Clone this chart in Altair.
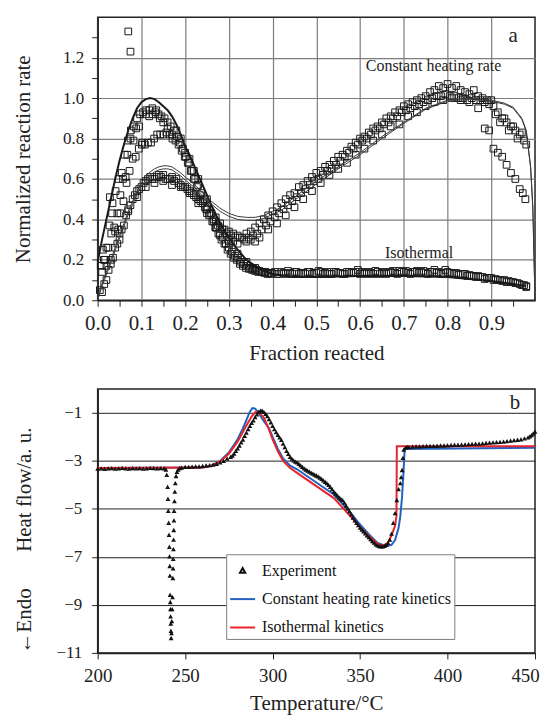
import altair as alt
import pandas as pd

FONT = "Liberation Serif"
INK = "#1a1a1a"

# ====================== panel a : data (fraction reacted, normalized rate) ======================
ISO_RUN_1 = [
    (0.007, 0.17), (0.014, 0.2), (0.02, 0.26), (0.027, 0.37), (0.034, 0.48), (0.041, 0.54), (0.048, 0.6),
    (0.055, 0.63), (0.062, 0.72), (0.069, 0.79), (0.076, 0.84), (0.083, 0.86), (0.09, 0.9), (0.097, 0.92),
    (0.104, 0.93), (0.111, 0.94), (0.118, 0.94), (0.125, 0.95), (0.132, 0.93), (0.139, 0.92), (0.146, 0.91),
    (0.153, 0.9), (0.16, 0.88), (0.167, 0.86), (0.174, 0.84), (0.181, 0.81), (0.188, 0.78), (0.195, 0.75),
    (0.202, 0.71), (0.209, 0.68), (0.216, 0.64), (0.223, 0.6), (0.23, 0.57), (0.237, 0.53), (0.244, 0.5),
    (0.251, 0.46), (0.258, 0.43), (0.265, 0.39), (0.272, 0.36), (0.279, 0.33), (0.286, 0.31), (0.293, 0.28),
    (0.3, 0.26), (0.307, 0.24), (0.314, 0.22), (0.321, 0.21), (0.328, 0.19), (0.335, 0.18), (0.342, 0.17),
    (0.349, 0.16), (0.356, 0.155), (0.363, 0.15), (0.37, 0.145), (0.377, 0.14), (0.384, 0.14), (0.391, 0.135),
    (0.398, 0.135),
    (0.41, 0.13), (0.42, 0.14), (0.43, 0.13), (0.44, 0.135), (0.45, 0.14), (0.46, 0.13), (0.47, 0.135),
    (0.48, 0.14), (0.49, 0.13), (0.5, 0.135), (0.51, 0.14), (0.52, 0.135), (0.53, 0.13), (0.54, 0.14),
    (0.55, 0.135), (0.56, 0.13), (0.57, 0.14), (0.58, 0.135), (0.59, 0.14), (0.6, 0.13), (0.61, 0.135),
    (0.62, 0.14), (0.63, 0.13), (0.64, 0.14), (0.65, 0.135), (0.66, 0.13), (0.67, 0.14), (0.68, 0.135),
    (0.69, 0.145), (0.7, 0.14), (0.71, 0.135), (0.72, 0.14), (0.73, 0.145), (0.74, 0.14), (0.75, 0.135),
    (0.76, 0.14), (0.77, 0.15), (0.78, 0.14), (0.79, 0.135), (0.8, 0.14), (0.81, 0.135), (0.82, 0.135),
    (0.83, 0.13), (0.84, 0.13), (0.85, 0.125), (0.86, 0.12), (0.87, 0.12), (0.88, 0.115), (0.89, 0.11),
    (0.9, 0.11), (0.91, 0.105), (0.92, 0.1), (0.93, 0.1), (0.94, 0.095), (0.95, 0.09), (0.96, 0.085),
    (0.97, 0.075), (0.98, 0.07),
]
ISO_RUN_2 = [
    (0.01, 0.14), (0.017, 0.2), (0.024, 0.26), (0.031, 0.33), (0.038, 0.36), (0.045, 0.43), (0.052, 0.43),
    (0.059, 0.49), (0.066, 0.58), (0.073, 0.64), (0.08, 0.7), (0.087, 0.71), (0.094, 0.75), (0.101, 0.77),
    (0.108, 0.77), (0.115, 0.78), (0.122, 0.78), (0.129, 0.8), (0.136, 0.82), (0.143, 0.82), (0.15, 0.82),
    (0.157, 0.83), (0.164, 0.82), (0.171, 0.8), (0.178, 0.79), (0.185, 0.77), (0.192, 0.74), (0.199, 0.71),
    (0.206, 0.68), (0.213, 0.64), (0.22, 0.6), (0.227, 0.56), (0.234, 0.52), (0.241, 0.49), (0.248, 0.45),
    (0.255, 0.42), (0.262, 0.39), (0.269, 0.36), (0.276, 0.33), (0.283, 0.3), (0.29, 0.28), (0.297, 0.25),
    (0.304, 0.23), (0.311, 0.21), (0.318, 0.2), (0.325, 0.18), (0.332, 0.17), (0.339, 0.16), (0.346, 0.155),
    (0.353, 0.15), (0.36, 0.145), (0.367, 0.14), (0.374, 0.14), (0.381, 0.135), (0.388, 0.13), (0.395, 0.13),
    (0.405, 0.14), (0.415, 0.13), (0.425, 0.135), (0.435, 0.145), (0.445, 0.13), (0.455, 0.14), (0.465, 0.135),
    (0.475, 0.13), (0.485, 0.14), (0.495, 0.135), (0.505, 0.145), (0.515, 0.13), (0.525, 0.14), (0.535, 0.13),
    (0.545, 0.14), (0.555, 0.135), (0.565, 0.13), (0.575, 0.14), (0.585, 0.135), (0.595, 0.15), (0.605, 0.14),
    (0.615, 0.13), (0.625, 0.135), (0.635, 0.145), (0.645, 0.13), (0.655, 0.14), (0.665, 0.135), (0.675, 0.145),
    (0.685, 0.13), (0.695, 0.14), (0.705, 0.145), (0.715, 0.13), (0.725, 0.14), (0.735, 0.135), (0.745, 0.145),
    (0.755, 0.13), (0.765, 0.14), (0.775, 0.135), (0.785, 0.13), (0.795, 0.15), (0.805, 0.135), (0.815, 0.13),
    (0.825, 0.125), (0.835, 0.13), (0.845, 0.12), (0.855, 0.12), (0.865, 0.115), (0.875, 0.115), (0.885, 0.105),
    (0.895, 0.11), (0.905, 0.1), (0.915, 0.1), (0.925, 0.095), (0.935, 0.09), (0.945, 0.09), (0.955, 0.085),
    (0.965, 0.08), (0.975, 0.075), (0.98, 0.065),
]
ISO_SCATTER = [
    (0.07, 1.33), (0.075, 1.23), (0.012, 0.25), (0.02, 0.17), (0.028, 0.51), (0.033, 0.43), (0.04, 0.34),
    (0.047, 0.35), (0.052, 0.52), (0.058, 0.6), (0.064, 0.61), (0.068, 0.72), (0.075, 0.8), (0.082, 0.79),
    (0.088, 0.85), (0.095, 0.86), (0.102, 0.78), (0.11, 0.92), (0.118, 0.91), (0.126, 0.92), (0.134, 0.94),
    (0.142, 0.9), (0.15, 0.88), (0.16, 0.85), (0.17, 0.82), (0.18, 0.84), (0.19, 0.8), (0.2, 0.73),
    (0.21, 0.7), (0.22, 0.64), (0.23, 0.6), (0.25, 0.5), (0.27, 0.41), (0.28, 0.38), (0.3, 0.28),
    (0.32, 0.23), (0.34, 0.19), (0.36, 0.16),
]
CHR_RUN_1 = [
    (0.005, 0.05), (0.015, 0.08), (0.025, 0.15), (0.035, 0.21), (0.045, 0.28), (0.055, 0.35), (0.065, 0.42),
    (0.075, 0.47), (0.085, 0.52), (0.095, 0.55), (0.105, 0.58), (0.115, 0.6), (0.125, 0.6), (0.135, 0.61),
    (0.145, 0.61), (0.155, 0.6), (0.165, 0.6), (0.175, 0.59), (0.185, 0.58), (0.195, 0.56), (0.205, 0.55),
    (0.215, 0.53), (0.225, 0.51), (0.235, 0.49), (0.245, 0.46), (0.255, 0.43), (0.265, 0.4), (0.275, 0.37),
    (0.285, 0.35), (0.295, 0.33), (0.305, 0.32), (0.315, 0.31), (0.325, 0.31), (0.335, 0.3), (0.345, 0.31),
    (0.355, 0.32), (0.365, 0.33), (0.375, 0.35), (0.385, 0.37), (0.395, 0.39), (0.405, 0.41), (0.415, 0.43),
    (0.425, 0.45), (0.435, 0.47), (0.445, 0.49), (0.455, 0.51), (0.465, 0.53), (0.475, 0.55), (0.485, 0.57),
    (0.495, 0.59), (0.505, 0.6), (0.515, 0.62), (0.525, 0.64), (0.535, 0.65), (0.545, 0.67), (0.555, 0.69),
    (0.565, 0.71), (0.575, 0.73), (0.585, 0.75), (0.595, 0.77), (0.605, 0.79), (0.615, 0.8), (0.625, 0.82),
    (0.635, 0.84), (0.645, 0.85), (0.655, 0.87), (0.665, 0.88), (0.675, 0.9), (0.685, 0.91), (0.695, 0.93),
    (0.705, 0.94), (0.715, 0.95), (0.725, 0.96), (0.735, 0.97), (0.745, 0.98), (0.755, 0.99), (0.765, 1.0),
    (0.775, 1.01), (0.785, 1.01), (0.795, 1.02), (0.805, 1.01), (0.815, 1.01), (0.825, 1.0), (0.835, 1.0),
    (0.845, 0.99), (0.855, 1.0), (0.865, 0.99), (0.875, 0.99), (0.885, 0.98), (0.895, 0.97), (0.905, 0.96),
    (0.915, 0.93), (0.925, 0.9), (0.935, 0.88), (0.945, 0.86), (0.955, 0.84), (0.965, 0.82), (0.975, 0.79),
]
CHR_RUN_2 = [
    (0.01, 0.04), (0.02, 0.1), (0.03, 0.2), (0.04, 0.26), (0.05, 0.3), (0.06, 0.37), (0.07, 0.45), (0.08, 0.5),
    (0.09, 0.54), (0.1, 0.56), (0.11, 0.59), (0.12, 0.61), (0.13, 0.6), (0.14, 0.62), (0.15, 0.62), (0.16, 0.6),
    (0.17, 0.61), (0.18, 0.6), (0.19, 0.57), (0.2, 0.56), (0.21, 0.54), (0.22, 0.52), (0.23, 0.5), (0.24, 0.48),
    (0.25, 0.45), (0.26, 0.43), (0.27, 0.39), (0.28, 0.36), (0.29, 0.35), (0.3, 0.34), (0.31, 0.33), (0.32, 0.32),
    (0.33, 0.31), (0.34, 0.33), (0.35, 0.34), (0.36, 0.36), (0.37, 0.38), (0.38, 0.4), (0.39, 0.42), (0.4, 0.44),
    (0.41, 0.46), (0.42, 0.48), (0.43, 0.5), (0.44, 0.52), (0.45, 0.53), (0.46, 0.56), (0.47, 0.57), (0.48, 0.59),
    (0.49, 0.61), (0.5, 0.63), (0.51, 0.64), (0.52, 0.66), (0.53, 0.67), (0.54, 0.69), (0.55, 0.71), (0.56, 0.72),
    (0.57, 0.74), (0.58, 0.76), (0.59, 0.78), (0.6, 0.8), (0.61, 0.81), (0.62, 0.83), (0.63, 0.85), (0.64, 0.86),
    (0.65, 0.88), (0.66, 0.9), (0.67, 0.91), (0.68, 0.93), (0.69, 0.94), (0.7, 0.96), (0.71, 0.97), (0.72, 0.98),
    (0.73, 0.99), (0.74, 1.0), (0.75, 1.01), (0.76, 1.03), (0.77, 1.04), (0.78, 1.06), (0.79, 1.05), (0.8, 1.07),
    (0.81, 1.05), (0.82, 1.06), (0.83, 1.04), (0.84, 1.03), (0.85, 1.02), (0.86, 1.04), (0.87, 1.01), (0.88, 1.0),
    (0.89, 0.99), (0.9, 0.99), (0.91, 0.92), (0.92, 0.88), (0.93, 0.9), (0.94, 0.84), (0.95, 0.86), (0.96, 0.8),
    (0.97, 0.83), (0.98, 0.77),
]
CHR_RUN_3 = [
    (0.03, 0.18), (0.05, 0.33), (0.07, 0.44), (0.09, 0.51), (0.11, 0.56), (0.13, 0.58), (0.15, 0.59),
    (0.17, 0.57), (0.19, 0.56), (0.21, 0.53), (0.23, 0.48), (0.25, 0.43), (0.27, 0.36), (0.28, 0.32),
    (0.3, 0.3), (0.31, 0.29), (0.32, 0.28), (0.34, 0.29), (0.35, 0.3), (0.36, 0.29), (0.37, 0.31),
    (0.39, 0.35), (0.41, 0.38), (0.43, 0.42), (0.45, 0.46), (0.47, 0.5), (0.49, 0.54), (0.51, 0.58),
    (0.53, 0.62), (0.55, 0.65), (0.57, 0.68), (0.59, 0.72), (0.61, 0.75), (0.63, 0.79), (0.65, 0.82),
    (0.67, 0.86), (0.69, 0.87), (0.71, 0.91), (0.73, 0.93), (0.75, 0.96), (0.77, 0.98), (0.79, 0.99),
    (0.81, 1.0), (0.83, 0.99), (0.85, 0.98), (0.87, 0.95), (0.885, 0.85), (0.895, 0.84), (0.905, 0.75),
    (0.915, 0.73), (0.925, 0.71), (0.935, 0.67), (0.945, 0.63), (0.955, 0.6), (0.965, 0.55), (0.972, 0.53),
    (0.978, 0.5),
]

ISO_MODEL_X = [0, 0.01, 0.02, 0.03, 0.04, 0.05, 0.06, 0.07, 0.08, 0.09, 0.1, 0.11, 0.12, 0.13, 0.14, 0.15,
               0.16, 0.17, 0.18, 0.19, 0.2, 0.21, 0.22, 0.24, 0.26, 0.28, 0.3, 0.32, 0.34, 0.36, 0.38, 0.4,
               0.45, 0.5, 0.6, 0.7, 0.8, 0.85, 0.9, 0.95, 0.98]
ISO_MODEL_Y = [0.19, 0.3, 0.4, 0.5, 0.6, 0.69, 0.77, 0.84, 0.9, 0.95, 0.98, 0.995, 1.0, 0.995, 0.98, 0.96,
               0.94, 0.91, 0.87, 0.82, 0.76, 0.72, 0.67, 0.57, 0.47, 0.38, 0.31, 0.25, 0.2, 0.17, 0.145, 0.13,
               0.115, 0.115, 0.12, 0.12, 0.115, 0.105, 0.095, 0.08, 0.07]

CHR_MODEL_X = [0, 0.01, 0.02, 0.03, 0.04, 0.05, 0.06, 0.07, 0.08, 0.09,
               0.1, 0.11, 0.12, 0.13, 0.14, 0.15, 0.16, 0.17, 0.18, 0.19, 0.2,
               0.22, 0.24, 0.26, 0.28, 0.3, 0.32, 0.34, 0.36, 0.38, 0.4,
               0.42, 0.45, 0.5, 0.55, 0.6, 0.65, 0.7, 0.75, 0.8, 0.85, 0.9,
               0.93, 0.95, 0.97, 0.98, 0.99, 0.995, 1.0]
CHR_MODEL_Y_UPPER = [0.02, 0.08, 0.14, 0.2, 0.26, 0.32, 0.38, 0.44, 0.49, 0.54,
                     0.58, 0.61, 0.635, 0.65, 0.66, 0.665, 0.665, 0.66, 0.645, 0.63, 0.61,
                     0.575, 0.53, 0.49, 0.455, 0.43, 0.415, 0.41, 0.41, 0.42, 0.44,
                     0.46, 0.51, 0.59, 0.66, 0.73, 0.81, 0.88, 0.95, 0.99, 1.0, 0.99,
                     0.975, 0.955, 0.9, 0.84, 0.66, 0.46, 0.0]
CHR_MODEL_Y_LOWER = [0.0, 0.07, 0.125, 0.185, 0.245, 0.305, 0.365, 0.425, 0.475, 0.525,
                     0.565, 0.595, 0.62, 0.635, 0.645, 0.65, 0.65, 0.645, 0.63, 0.615, 0.595,
                     0.56, 0.515, 0.475, 0.44, 0.415, 0.4, 0.395, 0.395, 0.405, 0.425,
                     0.445, 0.495, 0.575, 0.65, 0.72, 0.8, 0.875, 0.945, 0.985, 0.995, 0.985,
                     0.97, 0.95, 0.895, 0.835, 0.655, 0.455, 0.0]

A_TICKS_X = [0.0, 0.05, 0.1, 0.15, 0.2, 0.25, 0.3, 0.35, 0.4, 0.45, 0.5, 0.55, 0.6, 0.65, 0.7, 0.75,
             0.8, 0.85, 0.9, 0.95]
A_TICKS_Y = [0.0, 0.1, 0.2, 0.3, 0.4, 0.5, 0.6, 0.7, 0.8, 0.9, 1.0, 1.1, 1.2, 1.3]

A_NOTES = ["a", "Constant heating rate", "Isothermal"]
A_NOTES_X = [0.95, 0.768, 0.735]
A_NOTES_Y = [1.305, 1.16, 0.235]
A_NOTES_SIZE = [21, 16, 16]

# ====================== panel b : DSC heat flow ======================
EXPERIMENT = [
    (200, -3.34), (202, -3.33), (204, -3.35), (206, -3.33), (208, -3.32), (210, -3.34), (212, -3.33),
    (214, -3.31), (216, -3.33), (218, -3.34), (220, -3.32), (222, -3.33), (224, -3.32), (226, -3.34),
    (228, -3.33), (230, -3.31), (232, -3.32), (234, -3.33), (236, -3.32), (238, -3.33),
    (239, -3.38), (239.5, -3.6), (240, -4.1), (240.2, -4.6), (240.4, -5.1), (240.6, -5.6), (240.8, -6.1),
    (241, -6.6), (241.1, -7.0), (241.2, -7.4), (241.3, -7.8), (241.4, -8.6), (241.5, -8.9), (241.6, -9.2),
    (241.7, -9.5), (241.8, -9.8), (241.9, -10.1), (242, -10.4), (242.2, -10.2), (242.4, -9.7), (242.6, -9.2),
    (242.8, -8.7), (243, -7.9), (243.1, -7.5), (243.2, -7.1), (243.3, -6.7), (243.4, -6.3), (243.5, -5.9),
    (243.6, -5.5), (243.7, -5.1), (243.9, -4.7), (244.1, -4.3), (244.4, -3.95), (244.8, -3.65),
    (245.3, -3.48), (246, -3.38), (247, -3.32),
    (248, -3.3), (250, -3.27), (252, -3.27), (254, -3.26), (256, -3.25), (258, -3.25), (260, -3.23),
    (262, -3.21), (264, -3.2), (266, -3.18), (268, -3.14), (270, -3.08), (272, -3.02), (274, -2.93),
    (276, -2.85), (277, -2.8), (278, -2.72), (279, -2.6), (280, -2.5), (281, -2.38), (282, -2.25),
    (283, -2.13), (284, -1.98), (285, -1.84), (286, -1.7), (287, -1.56), (288, -1.44), (289, -1.33),
    (290, -1.2), (291, -1.08), (292, -0.98), (293, -0.93), (294, -0.93), (295, -0.98), (296, -1.06),
    (297, -1.16), (298, -1.28), (299, -1.42), (300, -1.56), (301, -1.7), (302, -1.82), (303, -1.94),
    (304, -2.04), (305, -2.15), (306, -2.3), (307, -2.45), (308, -2.6), (309, -2.73), (310, -2.85),
    (311, -2.93), (312, -3.0), (313, -3.05), (314, -3.08), (315, -3.15), (316, -3.21), (317, -3.27),
    (318, -3.33), (319, -3.38), (320, -3.43), (321, -3.47), (322, -3.51), (323, -3.55), (324, -3.59),
    (325, -3.63), (326, -3.67), (327, -3.72), (328, -3.77), (329, -3.83), (330, -3.89), (331, -3.95),
    (332, -4.02), (333, -4.1), (334, -4.2), (335, -4.3), (336, -4.38), (337, -4.46), (338, -4.54),
    (339, -4.6), (340, -4.66), (341, -4.76), (342, -4.88), (343, -5.0), (344, -5.12), (345, -5.25),
    (346, -5.38), (347, -5.5), (348, -5.6), (349, -5.7), (350, -5.8), (351, -5.88), (352, -5.96),
    (353, -6.04), (354, -6.12), (355, -6.2), (356, -6.28), (357, -6.36), (358, -6.43), (359, -6.5),
    (360, -6.54), (361, -6.57), (362, -6.58), (363, -6.58), (364, -6.56), (365, -6.52), (366, -6.44),
    (367, -6.3), (368, -6.05), (369, -5.6), (370, -5.2), (371, -4.65), (372, -4.2), (373, -3.95),
    (373.5, -3.7), (374, -3.4), (374.5, -2.9), (375, -2.55), (376, -2.47), (377, -2.44), (378, -2.45),
    (380, -2.43), (382, -2.42), (384, -2.42), (386, -2.41), (388, -2.4), (390, -2.4), (392, -2.4),
    (394, -2.39), (396, -2.38), (398, -2.38), (400, -2.37), (402, -2.36), (404, -2.35), (406, -2.35),
    (408, -2.34), (410, -2.33), (412, -2.32), (414, -2.31), (416, -2.3), (418, -2.3), (420, -2.29),
    (422, -2.27), (424, -2.26), (426, -2.25), (428, -2.24), (430, -2.23), (432, -2.22), (434, -2.2),
    (436, -2.18), (438, -2.16), (440, -2.14), (442, -2.12), (444, -2.08), (446, -2.04), (447, -2.0),
    (448, -1.95), (449, -1.88), (450, -1.8),
]
CHR_KINETICS = [
    (200, -3.3), (260, -3.28), (265, -3.2), (270, -3.0), (275, -2.65), (280, -2.1), (283, -1.65), (285, -1.3),
    (287, -0.95), (288.5, -0.8), (290, -0.82), (292, -1.0), (295, -1.35), (298, -1.65), (300, -2.0),
    (303, -2.5), (306, -2.9), (310, -3.2), (314, -3.35), (320, -3.65), (325, -3.9), (330, -4.15),
    (335, -4.4), (340, -4.8), (345, -5.2), (350, -5.65), (355, -6.05), (360, -6.42), (365, -6.55),
    (368, -6.5), (370, -6.3), (372, -5.8), (373, -5.3), (374, -4.5), (374.8, -3.5), (375.5, -2.5),
    (450, -2.45),
]
ISO_KINETICS = [
    (200, -3.3), (260, -3.28), (265, -3.2), (270, -3.02), (275, -2.7), (280, -2.2), (283, -1.8), (286, -1.4),
    (288, -1.15), (290, -0.97), (292, -0.96), (295, -1.2), (298, -1.7), (300, -2.1), (303, -2.6),
    (306, -3.0), (310, -3.3), (314, -3.5), (320, -3.8), (325, -4.05), (330, -4.3), (335, -4.55),
    (340, -4.95), (345, -5.35), (350, -5.75), (355, -6.13), (360, -6.45), (362, -6.52), (364, -6.5),
    (366, -6.4), (368, -6.1), (370, -5.7), (370.8, -5.3), (371, -2.39), (450, -2.39),
]
B_TICKS_X = [200, 250, 300, 350, 400, 450]
B_TICKS_Y = [-11, -9, -7, -5, -3, -1]
SERIES = ["Experiment", "Constant heating rate kinetics", "Isothermal kinetics"]
SERIES_COLORS = ["#111111", "#1f62c0", "#e8232b"]
SERIES_SHAPES = ["M0,-0.22L0.21,0.16L-0.21,0.16Z", "stroke", "stroke"]
B_NOTES = ["b"]
B_NOTES_T = [438.6]
B_NOTES_V = [-0.59]
B_NOTES_SIZE = [21]

# ====================== build panel a ======================
sq_rows = []
for name, run in [("iso1", ISO_RUN_1), ("iso2", ISO_RUN_2), ("iso3", ISO_SCATTER),
                  ("chr1", CHR_RUN_1), ("chr2", CHR_RUN_2), ("chr3", CHR_RUN_3)]:
    for x, y in run:
        sq_rows.append({"x": x, "y": y, "run": name})
sq_df = pd.DataFrame(sq_rows)
iso_model_df = pd.DataFrame({"x": ISO_MODEL_X, "y": ISO_MODEL_Y})
chr_up_df = pd.DataFrame({"x": CHR_MODEL_X, "y": CHR_MODEL_Y_UPPER})
chr_lo_df = pd.DataFrame({"x": CHR_MODEL_X, "y": CHR_MODEL_Y_LOWER})
a_notes_df = pd.DataFrame({"x": A_NOTES_X, "y": A_NOTES_Y, "label": A_NOTES, "size": A_NOTES_SIZE})

GRID_A = "#7d7d7d"
axis_a_x = alt.Axis(
    values=A_TICKS_X,
    labelExpr="round(datum.value*100) % 10 == 0 ? format(datum.value, '.1f') : ''",
    grid=True,
    gridColor={"condition": {"test": "round(datum.value*100) % 10 == 0", "value": GRID_A},
               "value": "rgba(0,0,0,0)"},
    gridWidth=1.2,
    labelFontSize=21, labelPadding=6, labelOverlap=False, labelFlush=False,
    titleFontSize=21, titlePadding=9,
)
axis_a_y = alt.Axis(
    values=A_TICKS_Y,
    labelExpr="round(datum.value*10) % 2 == 0 ? format(datum.value, '.1f') : ''",
    grid=True,
    gridColor={"condition": {"test": "round(datum.value*10) % 2 == 0", "value": GRID_A},
               "value": "rgba(0,0,0,0)"},
    gridWidth=1.2,
    labelFontSize=17, labelPadding=8, labelOverlap=False, labelFlush=False,
    titleFontSize=21, titlePadding=29,
)
XA = alt.X("x:Q", scale=alt.Scale(domain=[0, 1], nice=False, zero=False), axis=axis_a_x,
           title="Fraction reacted")
YA = alt.Y("y:Q", scale=alt.Scale(domain=[0, 1.4], nice=False, zero=False), axis=axis_a_y,
           title="Normalized reaction rate")

squares = alt.Chart(sq_df).mark_point(shape="square", filled=False, size=45, color=INK,
                                      strokeWidth=1, opacity=1).encode(x=XA, y=YA)
iso_line = alt.Chart(iso_model_df).mark_line(color=INK, strokeWidth=2).encode(x=XA, y=YA)
chr_up = alt.Chart(chr_up_df).mark_line(color="#3a3a3a", strokeWidth=1).encode(x=XA, y=YA)
chr_lo = alt.Chart(chr_lo_df).mark_line(color="#3a3a3a", strokeWidth=1).encode(x=XA, y=YA)
a_text = alt.Chart(a_notes_df).mark_text(font=FONT, color="#222222", align="center",
                                         baseline="middle").encode(
    x=XA, y=YA, text="label:N", size=alt.Size("size:Q", scale=None, legend=None))

panel_a = alt.layer(squares, iso_line, chr_up, chr_lo, a_text).properties(width=439, height=284)

# ====================== build panel b ======================
exp_df = pd.DataFrame({"T": [p[0] for p in EXPERIMENT], "v": [p[1] for p in EXPERIMENT],
                       "series": SERIES[0]})
chr_df = pd.DataFrame({"T": [p[0] for p in CHR_KINETICS], "v": [p[1] for p in CHR_KINETICS],
                       "series": SERIES[1]})
iso_df = pd.DataFrame({"T": [p[0] for p in ISO_KINETICS], "v": [p[1] for p in ISO_KINETICS],
                       "series": SERIES[2]})
b_notes_df = pd.DataFrame({"T": B_NOTES_T, "v": B_NOTES_V, "label": B_NOTES, "size": B_NOTES_SIZE})

axis_b_x = alt.Axis(values=B_TICKS_X, format="d", grid=False, labelFontSize=19, labelPadding=8,
                    labelFlush=False, labelOverlap=False, titleFontSize=21, titlePadding=7,
                    labelOffset={"condition": {"test": "datum.value == 450", "value": -10}, "value": 0})
axis_b_y = alt.Axis(values=B_TICKS_Y, format="d", grid=True, gridColor="#222222", gridWidth=1,
                    labelFontSize=17, labelPadding=10, labelFlush=False, titleFontSize=21,
                    titlePadding=21, titleAnchor="start")
XB = alt.X("T:Q", scale=alt.Scale(domain=[200, 450], nice=False, zero=False), axis=axis_b_x,
           title="Temperature/°C")
YB = alt.Y("v:Q", scale=alt.Scale(domain=[-11, 0], nice=False, zero=False), axis=axis_b_y,
           title="←Endo" + "\u00a0" * 7 + "Heat flow/a. u.")

legend_b = alt.Legend(title=None, orient="none", legendX=129, legendY=539, direction="vertical",
                      fillColor="white", strokeColor="#808080", padding=3, labelFont=FONT,
                      labelFontSize=16, labelColor="#111111", labelLimit=400, symbolSize=625,
                      symbolStrokeWidth=2, rowPadding=6.5, labelOffset=6)
color_b = alt.Color("series:N", scale=alt.Scale(domain=SERIES, range=SERIES_COLORS), legend=legend_b)
shape_b = alt.Shape("series:N", scale=alt.Scale(domain=SERIES, range=SERIES_SHAPES), legend=legend_b)

chr_kin = alt.Chart(chr_df).mark_line(strokeWidth=2).encode(x=XB, y=YB, color=color_b)
iso_kin = alt.Chart(iso_df).mark_line(strokeWidth=2).encode(x=XB, y=YB, color=color_b)
exp_pts = alt.Chart(exp_df).mark_point(filled=False, size=150, strokeWidth=1.3, opacity=1).encode(
    x=XB, y=YB, color=color_b, shape=shape_b)
b_text = alt.Chart(b_notes_df).mark_text(font=FONT, color="#222222", align="center",
                                         baseline="middle").encode(
    x=XB, y=YB, text="label:N", size=alt.Size("size:Q", scale=None, legend=None))

panel_b = alt.layer(chr_kin, iso_kin, exp_pts, b_text).properties(width=439, height=265)

chart = (
    alt.vconcat(panel_a, panel_b, spacing=24)
    .properties(padding={"left": 4, "top": 7, "right": 0, "bottom": 0}, background="white")
    .configure_axis(labelFont=FONT, titleFont=FONT, titleFontWeight="normal", labelColor="#222222",
                    titleColor="#222222", tickColor="#222222", domainColor="#222222", tickSize=6,
                    tickWidth=1, domainWidth=1.5)
    .configure_view(stroke="#222222", strokeWidth=1.5)
)

chart.save("out.html", embed_options={"renderer": "svg", "actions": False})
